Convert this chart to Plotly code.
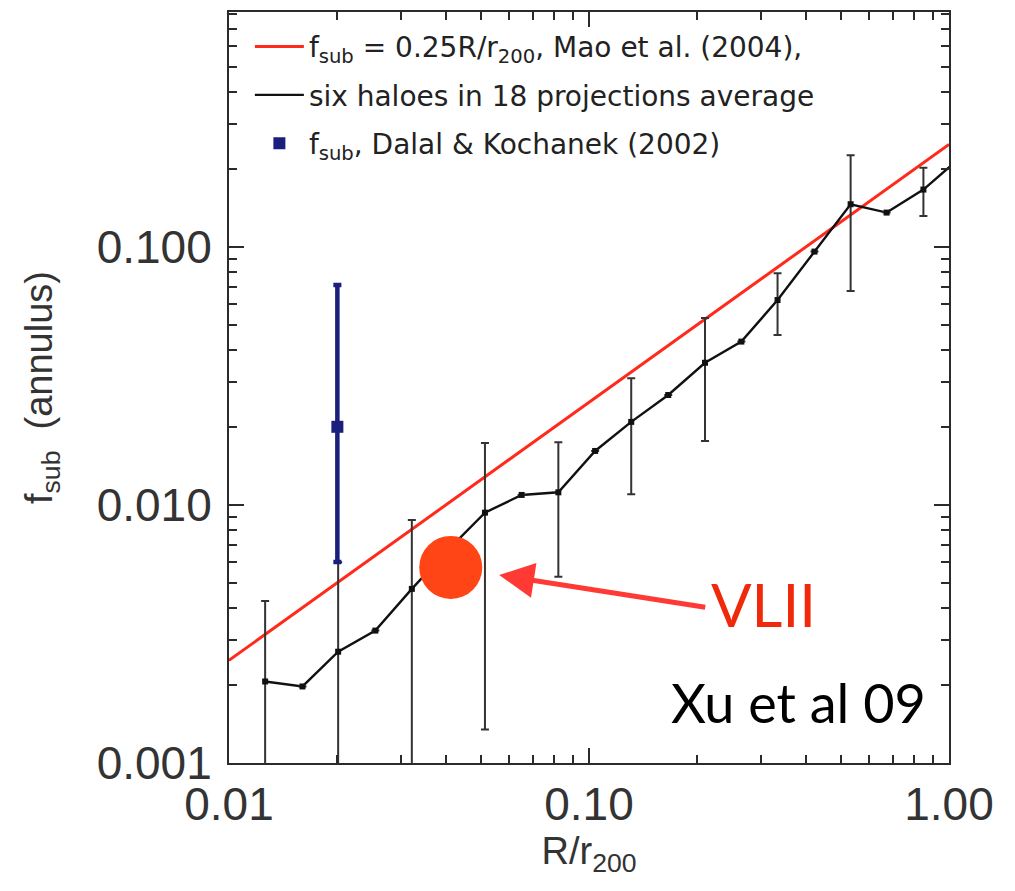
import math
import plotly.graph_objects as go

# ---- data ----
r_over_r200 = [0.0126, 0.0160, 0.0201, 0.0255, 0.0322, 0.0406, 0.0514, 0.0650, 0.0822, 0.104,
               0.131, 0.166, 0.210, 0.265, 0.334, 0.423, 0.533, 0.671, 0.849, 1.07]
fsub_avg = [0.00207, 0.00198, 0.00270, 0.00326, 0.00473, 0.0067, 0.00934, 0.01094, 0.0112, 0.0162,
            0.0210, 0.0267, 0.0356, 0.0430, 0.0623, 0.0960, 0.1465, 0.136, 0.167, 0.221]
err_upper = [0.00425, None, 0.0060, None, 0.00875, None, 0.0174, None, 0.0175, None,
             0.031, None, 0.0531, None, 0.0791, None, 0.227, None, 0.203, None]
err_lower = [0.0005, None, 0.0005, None, 0.0005, None, 0.00135, None, 0.00527, None,
             0.0110, None, 0.0177, None, 0.0456, None, 0.0675, None, 0.132, None]

mao_x = [0.01, 1.0]
mao_coef = 0.25

dk_x = [0.02]
dk_y = [0.0201]
dk_upper = [0.0713]
dk_lower = [0.00601]

vl2_x = [0.0413]
vl2_y = [0.00573]

x_ticks = [0.01, 0.1, 1.0]
x_ticktext = ["0.01", "0.10", "1.00"]
y_ticks = [0.001, 0.01, 0.1]
y_ticktext = ["0.001", "0.010", "0.100"]
minor_vals = [m * 10.0 ** e for e in range(-4, 1) for m in range(2, 10)]

# ---- derived ----
plus = [(u - y) if u is not None else 0 for u, y in zip(err_upper, fsub_avg)]
minus = [(y - l) if l is not None else 0 for l, y in zip(err_lower, fsub_avg)]
mao_y = [mao_coef * x for x in mao_x]

AX = "#2b2b2b"
fig = go.Figure()

fig.add_trace(go.Scatter(
    x=mao_x, y=mao_y, mode="lines", line=dict(color="#ff2a1a", width=3),
    name="f<sub>sub</sub> = 0.25R/r<sub>200</sub>, Mao et al. (2004),", legendgroup="a"))

fig.add_trace(go.Scatter(
    x=r_over_r200, y=fsub_avg, mode="lines", line=dict(color="#111111", width=2.4),
    name="six haloes in 18 projections average", legendgroup="b"))

fig.add_trace(go.Scatter(
    x=r_over_r200, y=fsub_avg, mode="markers", showlegend=False,
    marker=dict(symbol="square", size=6, color="#111111"),
    error_y=dict(type="data", symmetric=False, array=plus, arrayminus=minus,
                 color="#333333", thickness=2, width=4)))

fig.add_trace(go.Scatter(
    x=dk_x, y=dk_y, mode="markers",
    marker=dict(symbol="square", size=12, color="#1a1f7e"),
    error_y=dict(type="data", symmetric=False,
                 array=[u - y for u, y in zip(dk_upper, dk_y)],
                 arrayminus=[y - l for l, y in zip(dk_lower, dk_y)],
                 color="#1a1f7e", thickness=4.5, width=4),
    name="f<sub>sub</sub>, Dalal & Kochanek (2002)", legendgroup="c"))

fig.add_trace(go.Scatter(
    x=vl2_x, y=vl2_y, mode="markers", showlegend=False,
    marker=dict(size=63, color="#ff4515", line=dict(width=0))))

fig.add_annotation(
    x=math.log10(vl2_x[0]), y=math.log10(vl2_y[0]), xref="x", yref="y",
    ax=256, ay=40, axref="pixel", ayref="pixel", text="",
    showarrow=True, arrowhead=2, arrowsize=1.4, arrowwidth=5,
    arrowcolor="#ff3a34", standoff=49)

fig.add_annotation(x=0.743, y=0.212, xref="paper", yref="paper", text="VLII",
                   showarrow=False, font=dict(family="Lato", size=60, color="#f0290a"),
                   xanchor="center", yanchor="middle")
fig.add_annotation(x=0.791, y=0.08, xref="paper", yref="paper", text="Xu et al 09",
                   showarrow=False, font=dict(family="Lato", size=54, color="#000000"),
                   xanchor="center", yanchor="middle")

common = dict(showline=True, linecolor=AX, linewidth=2, mirror="allticks",
              ticks="inside", ticklen=15, tickwidth=1.5, tickcolor=AX,
              showgrid=False, zeroline=False,
              tickfont=dict(family="Liberation Sans", size=46, color="#333333"),
              minor=dict(tickmode="array", tickvals=minor_vals, ticks="inside",
                         ticklen=8, tickwidth=1.5, tickcolor=AX, showgrid=False))

fig.update_xaxes(type="log", range=[-2, 0], tickmode="array", tickvals=x_ticks,
                 ticktext=x_ticktext, ticklabelstandoff=0,
                 title=dict(text="R/r<sub>200</sub>", standoff=3,
                            font=dict(family="Liberation Sans", size=38, color="#333333")),
                 **common)
fig.update_yaxes(type="log", range=[-3, -0.089], tickmode="array", tickvals=y_ticks,
                 ticktext=y_ticktext, ticklabelstandoff=6,
                 title=dict(text="f<sub>sub</sub>  (annulus)", standoff=32,
                            font=dict(family="Liberation Sans", size=38, color="#333333")),
                 **common)

fig.update_layout(
    width=1007, height=883,
    margin=dict(l=221, r=66, t=4, b=128, autoexpand=False),
    plot_bgcolor="white", paper_bgcolor="white",
    legend=dict(x=0.029, y=0.987, xanchor="left", yanchor="top", itemwidth=49,
                font=dict(family="DejaVu Sans", size=28, color="#222222"),
                bgcolor="rgba(0,0,0,0)", traceorder="grouped", tracegroupgap=9),
)

fig.write_html("out.html")
